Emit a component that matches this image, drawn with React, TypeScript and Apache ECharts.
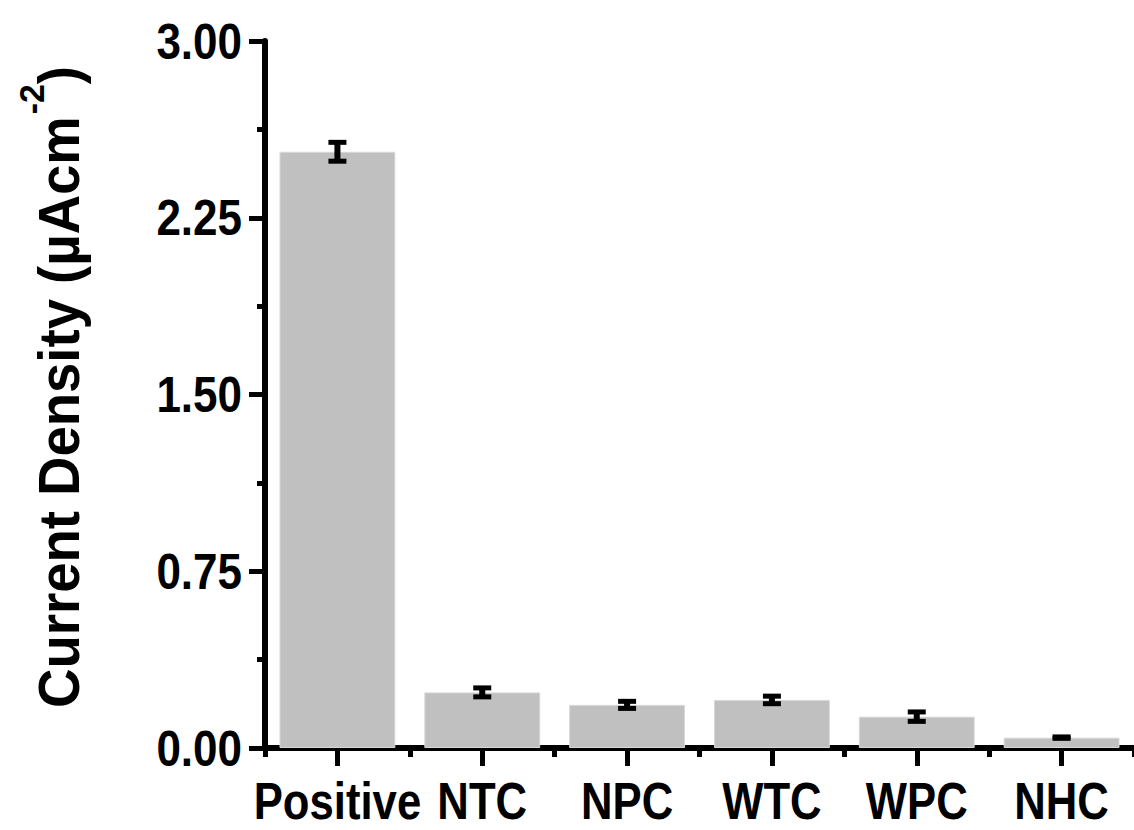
import React, { useEffect, useRef } from "react";
import * as echarts from "echarts";

const categories = ["Positive", "NTC", "NPC", "WTC", "WPC", "NHC"];
const means = [2.53, 0.236, 0.183, 0.204, 0.133, 0.044];
const errors = [0.04, 0.019, 0.015, 0.016, 0.02, 0.003];
const yTickValues = [0, 0.75, 1.5, 2.25, 3];
const yTickLabels = ["0.00", "0.75", "1.50", "2.25", "3.00"];
const yTitle = "{a|Current Density (µAcm}{s|-2}{a|)}";
const yMin = 0;
const yMax = 3;
const yInterval = 0.75;

const FONT = "'Liberation Sans', Arial, Helvetica, sans-serif";

export default function App() {
  const ref = useRef<HTMLDivElement>(null);

  useEffect(() => {
    if (!ref.current) return;
    const chart = echarts.init(ref.current, null, { renderer: "svg" });
    const errData = categories.map((c, i) => [i, means[i], errors[i]]);

    chart.setOption({
      animation: false,
      backgroundColor: "#ffffff",
      grid: { left: 265, top: 41, width: 870, height: 707, containLabel: false },
      xAxis: [
        {
          type: "category",
          data: categories,
          boundaryGap: true,
          axisLine: { show: true, lineStyle: { color: "#000", width: 6 } },
          axisTick: { show: true, interval: 0, alignWithLabel: false, length: 9, lineStyle: { color: "#000", width: 5 } },
          axisLabel: { show: false, interval: 0 },
          splitLine: { show: false },
        },
        {
          type: "category",
          data: categories,
          boundaryGap: true,
          position: "bottom",
          axisLine: { show: false },
          axisTick: { show: true, interval: 0, alignWithLabel: true, length: 18, lineStyle: { color: "#000", width: 5 } },
          axisLabel: { show: false },
          splitLine: { show: false },
        },
      ],
      yAxis: {
        type: "value",
        min: yMin,
        max: yMax,
        interval: yInterval,
        axisLine: { show: true, lineStyle: { color: "#000", width: 6 } },
        axisTick: { show: true, length: 16, lineStyle: { color: "#000", width: 5 } },
        minorTick: { show: true, splitNumber: 2, length: 8, lineStyle: { color: "#000", width: 5 } },
        splitLine: { show: false },
        minorSplitLine: { show: false },
        axisLabel: { show: false },
      },
      series: [
        {
          type: "bar",
          data: means,
          barWidth: "80%",
          itemStyle: { color: "#c0c0c0", borderColor: "#d8d8d8", borderWidth: 1 },
          z: 2,
        },
        {
          type: "custom",
          data: errData,
          z: 3,
          renderItem: (params: any, api: any) => {
            const idx = api.value(0);
            const m = api.value(1);
            const e = api.value(2);
            const top = api.coord([idx, m + e]);
            const bot = api.coord([idx, m - e]);
            const hw = 9;
            return {
              type: "group",
              children: [
                { type: "line", shape: { x1: top[0], y1: top[1], x2: bot[0], y2: bot[1] }, style: { stroke: "#000", lineWidth: 6 } },
                { type: "line", shape: { x1: top[0] - hw, y1: top[1], x2: top[0] + hw, y2: top[1] }, style: { stroke: "#000", lineWidth: 5 } },
                { type: "line", shape: { x1: bot[0] - hw, y1: bot[1], x2: bot[0] + hw, y2: bot[1] }, style: { stroke: "#000", lineWidth: 5 } },
              ],
            };
          },
        },
      ],
    });

    const xAxisY = chart.convertToPixel({ yAxisIndex: 0 }, yMin) as number;
    const graphics: any[] = [];
    categories.forEach((c, i) => {
      const px = chart.convertToPixel({ xAxisIndex: 0 }, i) as number;
      graphics.push({
        type: "text",
        x: px,
        y: xAxisY + 53,
        scaleX: 0.84,
        style: {
          text: c,
          fontFamily: FONT,
          fontWeight: "bold",
          fontSize: 52,
          fill: "#000",
          align: "center",
          verticalAlign: "middle",
        },
      });
    });
    yTickValues.forEach((v, i) => {
      const py = chart.convertToPixel({ yAxisIndex: 0 }, v) as number;
      graphics.push({
        type: "text",
        x: 242,
        y: py,
        scaleX: 0.88,
        style: {
          text: yTickLabels[i],
          fontFamily: FONT,
          fontWeight: "bold",
          fontSize: 50,
          fill: "#000",
          align: "right",
          verticalAlign: "middle",
        },
      });
    });
    graphics.push({
      type: "text",
      x: 59,
      y: 387,
      rotation: Math.PI / 2,
      scaleX: 0.94,
      style: {
        text: yTitle,
        align: "center",
        verticalAlign: "middle",
        fill: "#000",
        rich: {
          a: { fontFamily: FONT, fontWeight: "bold", fontSize: 58, fill: "#000", color: "#000" },
          s: { fontFamily: FONT, fontWeight: "bold", fontSize: 36, fill: "#000", color: "#000", padding: [0, 0, 56, 2] },
        },
      },
    });
    chart.setOption({ graphic: graphics });

    return () => {
      chart.dispose();
    };
  }, []);

  return (
    <div
      ref={ref}
      style={{ position: "absolute", left: 0, top: 0, width: 1134, height: 830, background: "#fff" }}
    />
  );
}
